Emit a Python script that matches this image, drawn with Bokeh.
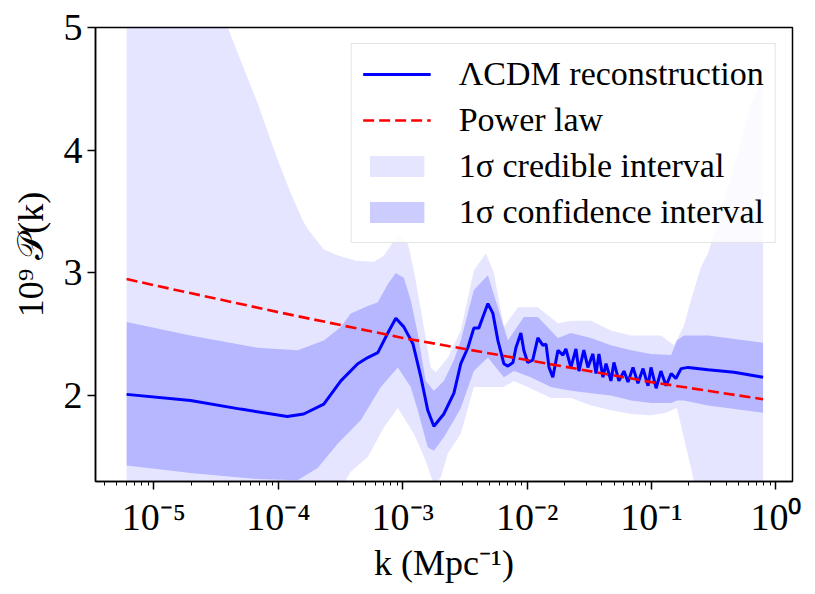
from bokeh.plotting import figure
from bokeh.models import Range1d, FixedTicker, LogTicker, CustomJSTickFormatter, Legend, LegendItem
from bokeh.embed import file_html
from bokeh.resources import INLINE

# LCDM reconstruction (k in Mpc^-1, 10^9 P(k))
k_recon = [6.03e-6, 1.97e-5, 4.98e-5, 1.18e-4, 1.60e-4, 2.32e-4, 3.18e-4, 4.35e-4, 5.24e-4, 6.31e-4,
           7.59e-4, 8.80e-4, 1.02e-3, 1.21e-3, 1.40e-3, 1.59e-3, 1.78e-3, 2.14e-3, 2.58e-3, 2.93e-3,
           3.34e-3, 3.73e-3, 4.09e-3, 4.41e-3, 4.84e-3, 5.31e-3, 5.82e-3, 6.50e-3, 7.01e-3, 7.69e-3,
           8.13e-3, 8.91e-3, 9.41e-3, 1.01e-2, 1.11e-2, 1.22e-2, 1.34e-2, 1.42e-2, 1.50e-2, 1.61e-2,
           1.77e-2, 1.94e-2, 2.05e-2, 2.25e-2, 2.47e-2, 2.61e-2, 2.86e-2, 3.08e-2, 3.38e-2, 3.58e-2,
           3.78e-2, 4.07e-2, 4.31e-2, 4.72e-2, 4.99e-2, 5.47e-2, 6.01e-2, 6.47e-2, 7.10e-2, 7.78e-2,
           8.55e-2, 9.38e-2, 9.91e-2, 0.109, 0.119, 0.131, 0.144, 0.157, 0.173, 0.197,
           0.285, 0.461, 0.789]
p_recon = [2.01, 1.96, 1.89, 1.83, 1.85, 1.93, 2.12, 2.26, 2.31, 2.35,
           2.51, 2.63, 2.56, 2.42, 2.15, 1.88, 1.75, 1.85, 2.02, 2.26,
           2.39, 2.55, 2.55, 2.64, 2.75, 2.67, 2.45, 2.26, 2.24, 2.27,
           2.39, 2.51, 2.37, 2.27, 2.29, 2.47, 2.41, 2.42, 2.23, 2.15,
           2.37, 2.33, 2.38, 2.23, 2.38, 2.20, 2.37, 2.23, 2.34, 2.18,
           2.34, 2.15, 2.26, 2.12, 2.27, 2.12, 2.20, 2.11, 2.23, 2.10,
           2.22, 2.08, 2.23, 2.06, 2.20, 2.08, 2.18, 2.14, 2.22, 2.23,
           2.21, 2.19, 2.15]

# Power law
k_pl = [6.03e-6, 1e-5, 1e-4, 1e-3, 1e-2, 1e-1, 0.789]
p_pl = [2.95, 2.90, 2.68, 2.47, 2.29, 2.11, 1.97]

# 1 sigma confidence interval
k_conf_hi = [6.03e-6, 1.97e-5, 6.83e-5, 1.43e-4, 2.32e-4, 3.18e-4, 3.82e-4, 5.24e-4, 6.31e-4, 7.59e-4,
             8.80e-4, 1.02e-3, 1.16e-3, 1.32e-3, 1.53e-3, 1.78e-3, 2.14e-3, 2.58e-3, 2.93e-3, 3.73e-3,
             4.84e-3, 5.82e-3, 7.01e-3, 9.41e-3, 1.22e-2, 1.77e-2, 2.25e-2, 3.26e-2, 4.72e-2, 6.84e-2,
             9.91e-2, 0.144, 0.160, 0.182, 0.285, 0.789]
p_conf_hi = [2.60, 2.49, 2.39, 2.37, 2.45, 2.56, 2.67, 2.73, 2.76, 2.91,
             3.00, 2.96, 2.78, 2.51, 2.12, 2.04, 2.12, 2.29, 2.45, 2.86,
             2.98, 2.72, 2.45, 2.64, 2.64, 2.47, 2.51, 2.47, 2.41, 2.37,
             2.34, 2.33, 2.45, 2.49, 2.49, 2.43]
k_conf_lo = [6.03e-6, 1.97e-5, 6.83e-5, 1.43e-4, 2.07e-4, 3.01e-4, 4.60e-4, 6.67e-4, 9.13e-4, 1.16e-3,
             1.32e-3, 1.59e-3, 1.78e-3, 2.14e-3, 2.58e-3, 2.93e-3, 3.73e-3, 4.84e-3, 6.50e-3, 7.83e-3,
             1.07e-2, 1.55e-2, 2.25e-2, 3.26e-2, 4.72e-2, 6.84e-2, 9.91e-2, 0.144, 0.160, 0.182,
             0.285, 0.789]
p_conf_lo = [1.43, 1.37, 1.32, 1.31, 1.41, 1.61, 1.80, 2.07, 2.23, 2.07,
             1.88, 1.58, 1.55, 1.66, 1.80, 1.90, 2.20, 2.31, 2.15, 2.20,
             2.15, 2.07, 2.04, 2.02, 2.00, 1.96, 1.94, 1.94, 1.96, 1.96,
             1.92, 1.86]

# 1 sigma credible interval
k_cred_hi = [6.03e-6, 2.38e-5, 3.92e-5, 6.83e-5, 9.89e-5, 1.26e-4, 1.57e-4, 1.72e-4, 2.32e-4, 3.06e-4,
             4.19e-4, 5.85e-4, 7.05e-4, 9.13e-4, 1.10e-3, 1.23e-3, 1.45e-3, 1.68e-3, 1.85e-3, 2.31e-3,
             2.93e-3, 3.73e-3, 4.66e-3, 5.41e-3, 6.50e-3, 8.44e-3, 1.22e-2, 1.77e-2, 2.25e-2, 3.26e-2,
             4.72e-2, 6.84e-2, 9.91e-2, 0.119, 0.152, 0.182, 0.208, 0.250, 0.285, 0.497,
             0.632, 0.789]
p_cred_hi = [6.50, 5.30, 5.00, 4.38, 3.92, 3.65, 3.43, 3.36, 3.19, 3.14,
             3.10, 3.09, 3.14, 3.31, 3.24, 3.02, 2.61, 2.23, 2.19, 2.31,
             2.53, 3.02, 3.16, 3.00, 2.56, 2.72, 2.72, 2.59, 2.61, 2.61,
             2.53, 2.49, 2.49, 2.49, 2.41, 2.57, 2.78, 3.05, 3.16, 3.98,
             4.39, 4.56]
k_cred_lo = [6.03e-6, 1.50e-4, 3.01e-4, 3.82e-4, 5.24e-4, 7.05e-4, 9.13e-4, 1.23e-3, 1.53e-3, 1.78e-3,
             2.02e-3, 2.31e-3, 2.93e-3, 3.73e-3, 6.50e-3, 7.83e-3, 1.01e-2, 1.55e-2, 2.25e-2, 3.26e-2,
             4.72e-2, 6.84e-2, 9.91e-2, 0.131, 0.160, 0.220, 0.250, 0.789]
p_cred_lo = [1.00, 1.00, 1.20, 1.38, 1.50, 1.74, 1.90, 1.69, 1.47, 1.27,
             1.33, 1.53, 1.69, 2.07, 2.07, 2.12, 2.07, 1.98, 1.98, 1.92,
             1.88, 1.85, 1.84, 1.86, 1.90, 1.30, 1.14, 0.50]

y_ticks = [2, 3, 4, 5]

FONT = "Liberation Serif"

p = figure(width=815, height=594, x_axis_type="log",
           x_range=Range1d(3.39e-6, 1.36), y_range=Range1d(1.3, 5.0),
           output_backend="svg", toolbar_location=None,
           min_border_left=95, min_border_right=23, min_border_top=27, min_border_bottom=113)

p.background_fill_color = "white"
p.border_fill_color = "white"
p.xgrid.visible = False
p.ygrid.visible = False
p.outline_line_color = "black"
p.outline_line_width = 1.5
p.outline_line_alpha = 1.0

r_cred = p.patch(x=k_cred_hi + k_cred_lo[::-1], y=p_cred_hi + p_cred_lo[::-1],
                 fill_color="#0000ff", fill_alpha=0.1, line_color=None)
r_conf = p.patch(x=k_conf_hi + k_conf_lo[::-1], y=p_conf_hi + p_conf_lo[::-1],
                 fill_color="#0000ff", fill_alpha=0.2, line_color=None)
r_line = p.line(k_recon, p_recon, line_color="#0000ff", line_width=3)
r_pl = p.line(k_pl, p_pl, line_color="#ff0000", line_width=2.6, line_dash="11 5")

# axes
xa = p.xaxis[0]
xa.ticker = LogTicker(num_minor_ticks=10)
xa.formatter = CustomJSTickFormatter(code="""
const sup = {"-": "\u207b", "0": "\u2070", "1": "\u00b9", "2": "\u00b2", "3": "\u00b3",
             "4": "\u2074", "5": "\u2075", "6": "\u2076", "7": "\u2077", "8": "\u2078", "9": "\u2079"};
const e = Math.round(Math.log10(tick));
return "10" + String(e).split("").map(c => sup[c]).join("");
""")
xa.axis_label = "k (Mpc\u207b\u00b9)"

ya = p.yaxis[0]
ya.ticker = FixedTicker(ticks=y_ticks)
ya.axis_label = "10\u2079 \U0001D4AB(k)"
ya.minor_tick_line_color = None

for ax in (xa, ya):
    ax.axis_line_color = "black"
    ax.axis_line_width = 1.5
    ax.major_tick_line_color = "black"
    ax.major_tick_line_width = 1.5
    ax.major_tick_in = 0
    ax.major_tick_out = 8
    ax.minor_tick_in = 0
    ax.minor_tick_out = 4
    ax.minor_tick_line_width = 1.0
    ax.major_label_text_font = FONT
    ax.major_label_text_font_size = "38px"
    ax.major_label_text_color = "black"
    ax.axis_label_text_font = FONT
    ax.axis_label_text_font_size = "36px"
    ax.axis_label_text_font_style = "normal"
    ax.axis_label_text_color = "black"
xa.minor_tick_line_color = "black"
xa.major_label_standoff = 6
xa.axis_label_standoff = 2
ya.major_label_standoff = 5
ya.axis_label_standoff = 10

legend = Legend(items=[
    LegendItem(label="\u039bCDM reconstruction", renderers=[r_line]),
    LegendItem(label="Power law", renderers=[r_pl]),
    LegendItem(label="1\u03c3 credible interval", renderers=[r_cred]),
    LegendItem(label="1\u03c3 confidence interval", renderers=[r_conf]),
], location="top_right")
legend.margin = 16
legend.padding = 11
legend.spacing = 8
legend.glyph_width = 68
legend.glyph_height = 26
legend.label_standoff = 28
legend.label_text_font = FONT
legend.label_text_font_size = "34px"
legend.label_text_color = "black"
legend.border_line_color = "#cccccc"
legend.border_line_width = 1
legend.background_fill_color = "white"
legend.background_fill_alpha = 0.8
p.add_layout(legend)

open("out.html", "w").write(file_html(p, INLINE))
